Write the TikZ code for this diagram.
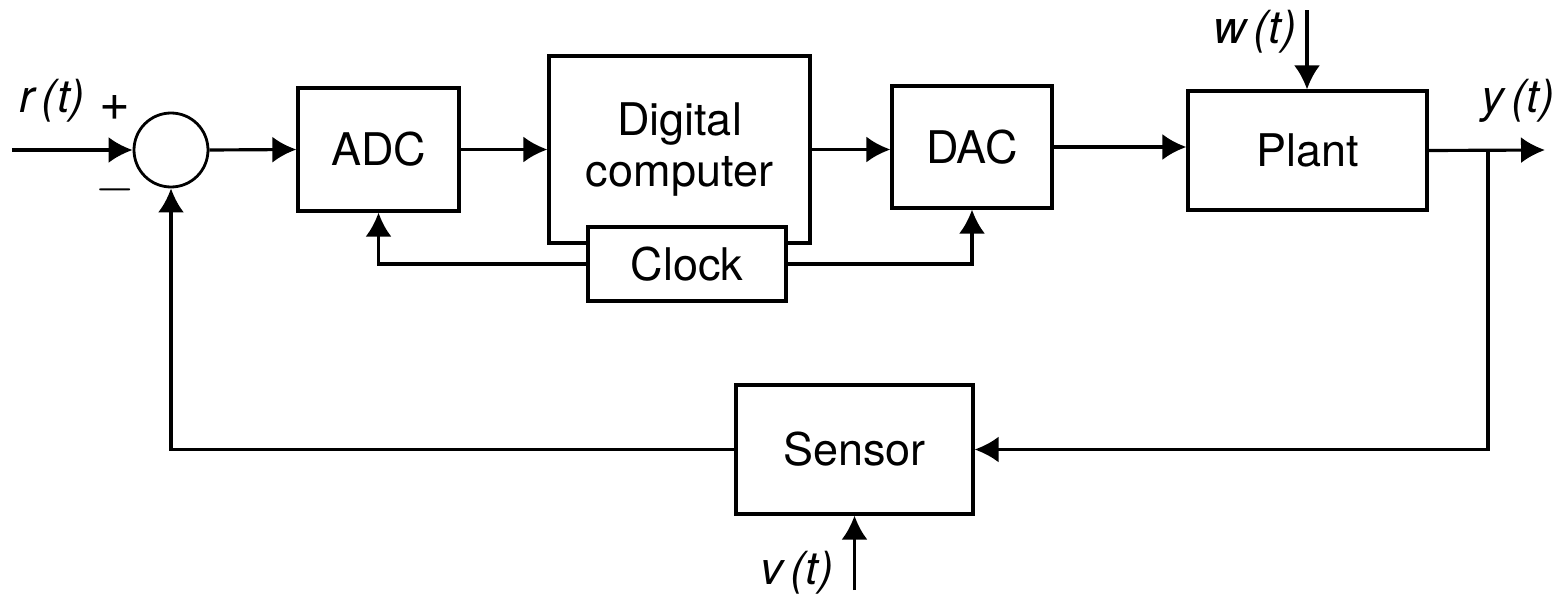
\documentclass[tikz,border=0pt]{standalone}
\usepackage{fontspec}
\setmainfont{TeX Gyre Heros}
\usetikzlibrary{arrows.meta,positioning}

\begin{document}
\begin{tikzpicture}[
    block/.style={draw, line width=0.9pt, fill=white, align=center, font=\fontsize{12.8}{14.5}\selectfont},
    sumnode/.style={draw, circle, line width=0.8pt, minimum size=0.74cm, inner sep=0pt},
    arrow/.style={-{Latex[length=2.4mm,width=2.6mm]}, line width=0.9pt},
    line/.style={line width=0.9pt},
    lbl/.style={font=\fontsize{13}{14}\selectfont\itshape},
    sign/.style={font=\fontsize{15}{16}\selectfont}
]
    \useasboundingbox (0,0) rectangle (15.56,5.94);

    \node[sumnode] (sum) at (1.71,4.44) {};
    \node[block, minimum width=1.61cm, minimum height=1.23cm] (adc) at (3.785,4.445) {ADC};
    \node[block, minimum width=2.61cm, minimum height=1.87cm] (comp) at (6.795,4.445) {Digital\\computer};
    \node[block, minimum width=1.98cm, minimum height=0.74cm] (clock) at (6.87,3.30) {Clock};
    \node[block, minimum width=1.60cm, minimum height=1.22cm] (dac) at (9.72,4.47) {DAC};
    \node[block, minimum width=2.39cm, minimum height=1.19cm] (plant) at (13.075,4.435) {Plant};
    \node[block, minimum width=2.37cm, minimum height=1.29cm] (sensor) at (8.545,1.445) {Sensor};

    \coordinate (rin) at (0.12,4.44);
    \coordinate (win) at (13.07,5.84);
    \coordinate (yout) at (15.45,4.44);
    \coordinate (branch) at (14.88,4.44);
    \coordinate (vin) at (8.545,0.04);

    \node[lbl] (rlabel) at (0.52,4.93) {r\,(t)};
    \node[sign] (plus) at (1.15,4.86) {+};
    \node[sign] (minus) at (1.15,4.04) {$-$};
    \node[lbl] (wlabel) at (12.55,5.62) {w\,(t)};
    \node[lbl] (ylabel) at (15.18,4.93) {y\,(t)};
    \node[lbl] (vlabel) at (7.97,0.21) {v\,(t)};

    \draw[arrow] (rin) -- (sum.west);
    \draw[arrow] (sum.east) -- (adc.west);
    \draw[arrow] (adc.east) -- (adc.east -| comp.west);
    \draw[arrow] (comp.east) -- (comp.east -| dac.west);
    \draw[arrow] (dac.east) -- (dac.east -| plant.west);
    \draw[arrow] (win) -- (plant.north -| win);
    \draw[arrow] (plant.east) -- (yout);
    \draw[arrow, line] (branch) |- (sensor.east);
    \draw[arrow] (sensor.west) -| (sum.south);
    \draw[arrow] (vin) -- (sensor.south);
    \draw[arrow] (clock.west) -| (adc.south);
    \draw[arrow] (clock.east) -| (dac.south);
\end{tikzpicture}
\end{document}
